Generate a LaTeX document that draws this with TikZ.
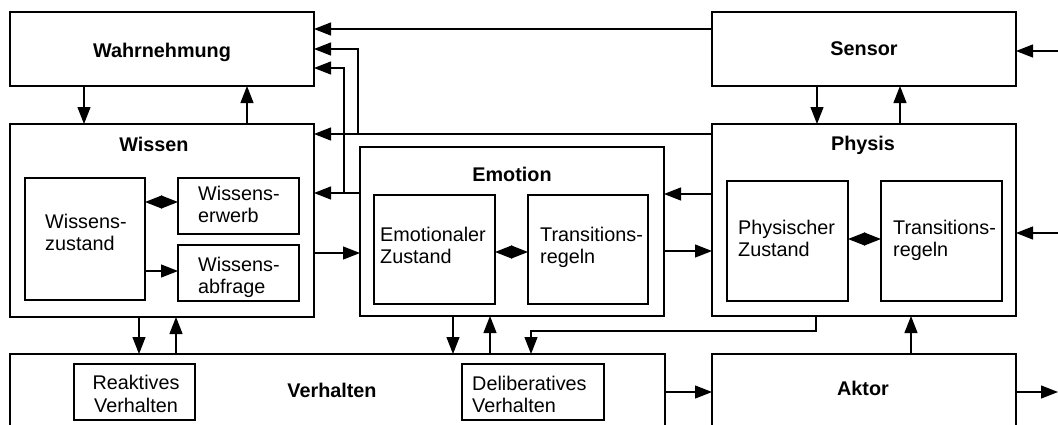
\documentclass[tikz,border=0pt]{standalone}
\usepackage{fontspec}
\setmainfont{Liberation Sans}
\usetikzlibrary{arrows.meta}
\begin{document}
\begin{tikzpicture}[x=1pt,y=-1pt,
  box/.style={draw,line width=1.5pt,inner sep=0pt,outer sep=0pt},
  title/.style={font=\fontsize{19.8}{22}\selectfont\bfseries,anchor=base,inner sep=0pt},
  txt/.style={font=\fontsize{19.8}{22}\selectfont,anchor=base west,align=left,inner sep=0pt},
  ctxt/.style={font=\fontsize{19.8}{23}\selectfont,anchor=base,align=center,inner sep=0pt},
  conn/.style={line width=1.2pt},
  >={Triangle[length=17pt,width=13pt]}]
\useasboundingbox (0,0) rectangle (1058,424);
\clip (0,0) rectangle (1058,424);

% main blocks
\node[box,minimum width=304pt,minimum height=74pt]  (wahr)    at (162,49)    {};
\node[box,minimum width=304pt,minimum height=74pt]  (sensor)  at (864,49)    {};
\node[box,minimum width=304pt,minimum height=193pt] (wissen)  at (162,220.5) {};
\node[box,minimum width=304pt,minimum height=169pt] (emotion) at (512,231.5) {};
\node[box,minimum width=304pt,minimum height=192pt] (physis)  at (864,220)   {};
\node[box,minimum width=655pt,minimum height=96pt]  (verh)    at (337.5,402) {};
\node[box,minimum width=304pt,minimum height=96pt]  (aktor)   at (864,402)   {};

% inner blocks
\node[box,minimum width=120pt,minimum height=122pt] (wz) at (85,239)    {};
\node[box,minimum width=121pt,minimum height=56pt]  (we) at (238.5,206) {};
\node[box,minimum width=121pt,minimum height=56pt]  (wa) at (238.5,273) {};
\node[box,minimum width=121pt,minimum height=109pt] (ez) at (434.5,249.5) {};
\node[box,minimum width=120pt,minimum height=109pt] (et) at (588,249.5) {};
\node[box,minimum width=121pt,minimum height=120pt] (pz) at (787.5,241) {};
\node[box,minimum width=121pt,minimum height=120pt] (pt) at (941.5,241) {};
\node[box,minimum width=121pt,minimum height=56pt]  (rv) at (134.5,392) {};
\node[box,minimum width=142pt,minimum height=56pt]  (dv) at (533,392)   {};

% labels (base anchor of a two-line node sits on its last line)
\node[title] (wahrT)    at (162,57)  {Wahrnehmung};
\node[title] (sensorT)  at (864,55)  {Sensor};
\node[title] (wissenT)  at (154,151) {Wissen};
\node[title] (emotionT) at (512,181) {Emotion};
\node[title] (physisT)  at (863,150) {Physis};
\node[title] (verhT)    at (332,397) {Verhalten};
\node[title] (aktorT)   at (863,395) {Aktor};

\node[txt] (wzT) at (45,250)  {Wissens-\\zustand};
\node[txt] (weT) at (198,222) {Wissens-\\erwerb};
\node[txt] (waT) at (198,293) {Wissens-\\abfrage};
\node[txt] (ezT) at (380,263) {Emotionaler\\Zustand};
\node[txt] (etT) at (540,263) {Transitions-\\regeln};
\node[txt] (pzT) at (738,256) {Physischer\\Zustand};
\node[txt] (ptT) at (893,256) {Transitions-\\regeln};
\node[ctxt] (rvT) at (136,412) {Reaktives\\Verhalten};
\node[txt] (dvT) at (472,412) {Deliberatives\\Verhalten};

% free ends at the right edge
\coordinate (inS) at (1080,51);
\coordinate (inP) at (1080,233);
\coordinate (outA) at (1058,392);
% branch points
\coordinate (j1) at (358,134);
\coordinate (j2) at (344,193);

% connectors
\draw[conn,->] ([xshift=74pt]wahr.south west) -- ([xshift=74pt]wissen.north west);
\draw[conn,->] ([xshift=237pt]wissen.north west) -- ([xshift=237pt]wahr.south west);
\draw[conn,->] ([yshift=-17pt]sensor.north west) -- ([yshift=-17pt]wahr.north east);
\draw[conn,->] ([yshift=-10pt]physis.north west) -- ([yshift=-10pt]wissen.north east);
\draw[conn,->] (j1) |- ([yshift=-37pt]wahr.north east);
\draw[conn,->] ([yshift=-46pt]emotion.north west) -- ([yshift=-69pt]wissen.north east);
\draw[conn,->] (j2) |- ([yshift=-56pt]wahr.north east);
\draw[conn,->] ([yshift=-129pt]wissen.north east) -- ([yshift=-106pt]emotion.north west);
\draw[conn,->] ([yshift=-70pt]physis.north west) -- ([yshift=-47pt]emotion.north east);
\draw[conn,->] ([yshift=-104pt]emotion.north east) -- ([yshift=-127pt]physis.north west);
\draw[conn,->] ([xshift=105pt]sensor.south west) -- ([xshift=105pt]physis.north west);
\draw[conn,->] ([xshift=188pt]physis.north west) -- ([xshift=188pt]sensor.south west);
\draw[conn,->] ([xshift=104pt]physis.south west) -- ++(0,15) -| ([xshift=521pt]verh.north west);
\draw[conn,->] ([xshift=199pt]aktor.north west) -- ([xshift=199pt]physis.south west);
\draw[conn,->] ([xshift=129pt]wissen.south west) -- ([xshift=129pt]verh.north west);
\draw[conn,->] ([xshift=166pt]verh.north west) -- ([xshift=166pt]wissen.south west);
\draw[conn,->] ([xshift=93pt]emotion.south west) -- ([xshift=443pt]verh.north west);
\draw[conn,->] ([xshift=480pt]verh.north west) -- ([xshift=130pt]emotion.south west);
\draw[conn,->] ([yshift=-38pt]verh.north east) -- ([yshift=-38pt]aktor.north west);
\draw[conn,->] ([yshift=-38pt]aktor.north east) -- (outA);
\draw[conn,->] (inS) -- ([yshift=-39pt]sensor.north east);
\draw[conn,->] (inP) -- ([yshift=-109pt]physis.north east);

\draw[conn,<->] ([yshift=-24pt]wz.north east) -- ([yshift=-24pt]we.north west);
\draw[conn,->]  ([yshift=-93pt]wz.north east) -- ([yshift=-26pt]wa.north west);
\draw[conn,<->] ([yshift=-57pt]ez.north east) -- ([yshift=-57pt]et.north west);
\draw[conn,<->] ([yshift=-58pt]pz.north east) -- ([yshift=-58pt]pt.north west);
\end{tikzpicture}
\end{document}
